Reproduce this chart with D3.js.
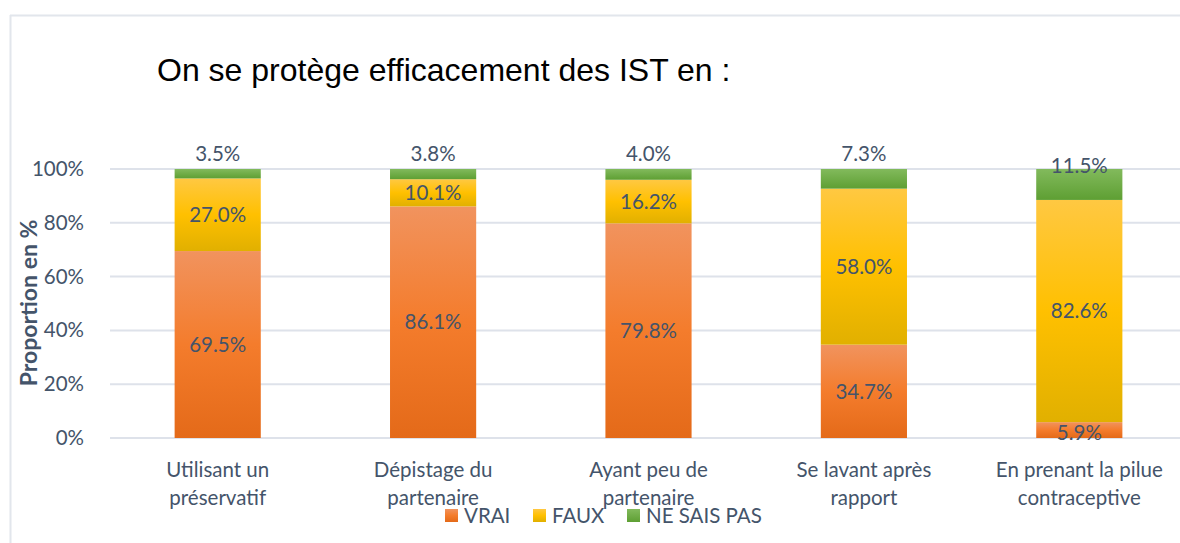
<!DOCTYPE html>
<html>
<head>
<meta charset="utf-8">
<script src="https://cdn.jsdelivr.net/npm/d3@7"></script>
<style>
  body { margin: 0; background: #fff; }
  svg { display: block; }
</style>
</head>
<body>
<svg id="chart"></svg>
<script>
// values
var categories = [
  ["Utilisant un", "préservatif"],
  ["Dépistage du", "partenaire"],
  ["Ayant peu de", "partenaire"],
  ["Se lavant après", "rapport"],
  ["En prenant la pilue", "contraceptive"]
];
var vrai = [69.5, 86.1, 79.8, 34.7, 5.9];
var faux = [27.0, 10.1, 16.2, 58.0, 82.6];
var nsp = [3.5, 3.8, 4.0, 7.3, 11.5];
var seriesNames = ["VRAI", "FAUX", "NE SAIS PAS"];
var yTicks = [0, 20, 40, 60, 80, 100];

var dimensions = {
  width: 1180,
  height: 543,
  margin: { top: 169, right: -7, bottom: 105, left: 110 }
};

var textColor = "#44546A";
var font = "Lato, 'Open Sans', sans-serif";
var fs = 20.5;

var svg = d3.select("#chart")
  .attr("width", dimensions.width)
  .attr("height", dimensions.height);

var defs = svg.append("defs");
function grad(id, stops) {
  var g = defs.append("linearGradient").attr("id", id)
    .attr("x1", 0).attr("y1", 0).attr("x2", 0).attr("y2", 1);
  stops.forEach(function (s) {
    g.append("stop").attr("offset", s[0]).attr("stop-color", s[1]);
  });
}
grad("gVrai", [[0, "#F1935E"], [0.5, "#F47C2C"], [1, "#E46A19"]]);
grad("gFaux", [[0, "#FFC842"], [0.5, "#FFC000"], [1, "#E1B000"]]);
grad("gNsp", [[0, "#82BA5C"], [1, "#5E9F33"]]);
var fills = ["url(#gVrai)", "url(#gFaux)", "url(#gNsp)"];

// frame lines
svg.append("line").attr("x1", 10).attr("x2", 1180).attr("y1", 15.5).attr("y2", 15.5)
  .attr("stroke", "#E2E6EC").attr("stroke-width", 2);
svg.append("line").attr("x1", 10.5).attr("x2", 10.5).attr("y1", 15).attr("y2", 543)
  .attr("stroke", "#E2E6EC").attr("stroke-width", 2);

var data = categories.map(function (c, i) {
  return { key: i, cat: c, VRAI: vrai[i], FAUX: faux[i], "NE SAIS PAS": nsp[i] };
});

var xScale = d3.scaleBand()
  .domain(d3.range(categories.length))
  .range([dimensions.margin.left, dimensions.width - dimensions.margin.right])
  .paddingInner(0.6)
  .paddingOuter(0.3);

var yScale = d3.scaleLinear()
  .domain([0, 100])
  .range([dimensions.height - dimensions.margin.bottom, dimensions.margin.top]);

// grid
svg.append("g").selectAll("line").data(yTicks).enter().append("line")
  .attr("x1", dimensions.margin.left).attr("x2", 1180)
  .attr("y1", function (d) { return yScale(d); })
  .attr("y2", function (d) { return yScale(d); })
  .attr("stroke", "#DEE2EA").attr("stroke-width", 2);

// y tick labels
var yAxis = svg.append("g")
  .attr("transform", "translate(" + (dimensions.margin.left - 23) + ",0)")
  .call(d3.axisLeft(yScale).tickValues(yTicks).tickSize(0).tickFormat(function (d) { return d + "%"; }));
yAxis.select(".domain").remove();
yAxis.selectAll("text")
  .attr("font-family", font).attr("font-size", fs).attr("fill", textColor);

// stacked bars
var stack = d3.stack().keys(seriesNames)(data);
var layers = svg.append("g").selectAll("g").data(stack).enter().append("g")
  .attr("fill", function (d, i) { return fills[i]; });
layers.selectAll("rect").data(function (d) { return d; }).enter().append("rect")
  .attr("x", function (d) { return xScale(d.data.key); })
  .attr("width", xScale.bandwidth())
  .attr("y", function (d) { return yScale(d[1]); })
  .attr("height", function (d) { return yScale(d[0]) - yScale(d[1]); });

// data labels
stack.forEach(function (layer, li) {
  svg.append("g").selectAll("text").data(layer).enter().append("text")
    .attr("x", function (d) { return xScale(d.data.key) + xScale.bandwidth() / 2; })
    .attr("y", function (d) {
      var mid = (yScale(d[0]) + yScale(d[1])) / 2;
      if (li === 2) {
        var v = d[1] - d[0];
        return v > 10 ? yScale(100) - 3 : yScale(100) - 15;
      }
      if (li === 0 && d[1] - d[0] < 8) return mid + 3;
      return mid;
    })
    .attr("dy", "0.35em")
    .attr("text-anchor", "middle")
    .attr("font-family", font).attr("font-size", fs).attr("fill", textColor)
    .text(function (d) { return (d[1] - d[0]).toFixed(1) + "%"; });
});

// x labels
var xl = svg.append("g").selectAll("text").data(data).enter().append("text")
  .attr("text-anchor", "middle")
  .attr("font-family", font).attr("font-size", fs).attr("fill", textColor)
  .attr("transform", function (d) {
    return "translate(" + (xScale(d.key) + xScale.bandwidth() / 2) + "," + 477 + ")";
  });
xl.selectAll("tspan").data(function (d) { return d.cat; }).enter().append("tspan")
  .attr("x", 0).attr("y", function (d, i) { return i * 28; })
  .text(function (d) { return d; });

// y axis title
svg.append("text")
  .attr("transform", "translate(37,303) rotate(-90)")
  .attr("text-anchor", "middle")
  .attr("font-family", font).attr("font-size", 23).attr("font-weight", "bold")
  .attr("fill", textColor)
  .text("Proportion en %");

// title
svg.append("text")
  .attr("x", 157).attr("y", 81)
  .attr("font-family", "'Liberation Sans', Arial, sans-serif")
  .attr("font-size", 32).attr("fill", "#000")
  .text("On se protège efficacement des IST en :");

// legend
var legendX = [445, 533, 627];
var legend = svg.append("g").selectAll("g").data(seriesNames).enter().append("g")
  .attr("transform", function (d, i) { return "translate(" + legendX[i] + ",509)"; });
legend.append("rect").attr("width", 13).attr("height", 13)
  .attr("fill", function (d, i) { return fills[i]; });
legend.append("text").attr("x", 19).attr("y", 7).attr("dy", "0.35em")
  .attr("font-family", font).attr("font-size", fs).attr("fill", textColor)
  .text(function (d) { return d; });
</script>
</body>
</html>
